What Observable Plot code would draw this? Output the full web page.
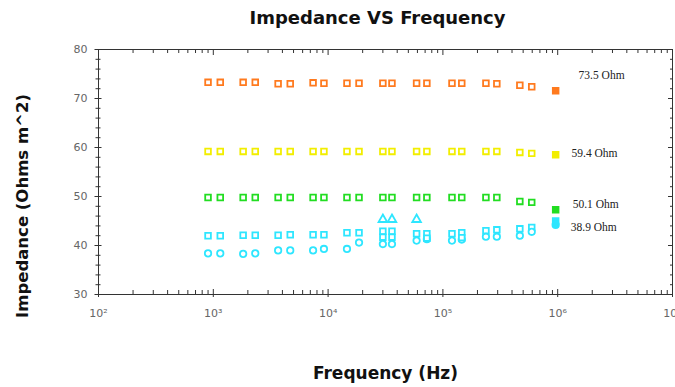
<!DOCTYPE html>
<html>
<head>
<meta charset="utf-8">
<script src="https://cdn.jsdelivr.net/npm/d3@7"></script>
<script src="https://cdn.jsdelivr.net/npm/@observablehq/plot@0.6"></script>
<style>
  html, body { margin: 0; padding: 0; background: #fff; }
  #wrap { position: relative; width: 675px; height: 387px; }
  #chart svg { display: block; }
  #ylabel {
    position: absolute; left: 22px; top: 206px;
    transform: translate(-50%, -50%) rotate(-90deg);
    white-space: nowrap;
    font-family: "DejaVu Sans", sans-serif; font-weight: bold; font-size: 16.5px; color: #111;
  }
</style>
</head>
<body>
<div id="wrap">
  <div id="chart"></div>
  <div id="ylabel">Impedance (Ohms m^2)</div>
</div>
<script>
// ---- data ----
const freq = [900, 1150, 1820, 2320, 3670, 4680, 7400, 9200, 14600, 18600,
              30000, 36000, 59000, 72500, 120000, 146000, 237000, 295000, 468000, 594000, 960000];
const orangeVals = [73.3, 73.3, 73.3, 73.3, 73.0, 73.0, 73.2, 73.1, 73.1, 73.1,
                    73.1, 73.1, 73.1, 73.1, 73.1, 73.1, 73.1, 73.0, 72.7, 72.4, 71.6];
const yellowVals = [59.2, 59.2, 59.2, 59.2, 59.2, 59.2, 59.2, 59.2, 59.2, 59.2,
                    59.2, 59.2, 59.2, 59.2, 59.2, 59.2, 59.2, 59.2, 59.0, 58.8, 58.5];
const greenVals  = [49.8, 49.8, 49.8, 49.8, 49.8, 49.8, 49.8, 49.8, 49.8, 49.8,
                    49.8, 49.8, 49.8, 49.8, 49.8, 49.8, 49.8, 49.8, 49.0, 48.8, 47.3];
const cyanUpper  = [42.0, 42.0, 42.1, 42.1, 42.1, 42.2, 42.2, 42.2, 42.6, 42.6,
                    42.9, 42.9, 42.4, 42.4, 42.4, 42.6, 43.0, 43.2, 43.4, 43.7, 45.0];
const cyanLower  = [38.4, 38.4, 38.3, 38.4, 39.0, 39.0, 39.0, 39.3, 39.3, 40.6,
                    40.3, 40.3, 41.0, 41.3, 41.0, 41.2, 41.8, 41.8, 42.0, 42.8, 44.2];
const cyanMidFreq = [30000, 36000, 72500, 146000];
const cyanMidVals = [41.7, 41.7, 41.5, 41.6];
const cyanTriFreq = [30000, 36000, 59000];
const cyanTriVals = [45.3, 45.3, 45.3];

const seriesNames  = ["73.5 Ohm", "59.4 Ohm", "50.1 Ohm", "38.9 Ohm"];
const seriesColors = ["#ff7a1e", "#f2ee00", "#22dd22", "#2ee6ff"];

const annFreq = [1.52e6, 1.32e6, 1.35e6, 1.30e6];
const annVals = [74.7, 58.8, 48.4, 43.7];

const yTicks = [30, 40, 50, 60, 70, 80];
const yMinor = [32, 34, 36, 38, 42, 44, 46, 48, 52, 54, 56, 58, 62, 64, 66, 68, 72, 74, 76, 78];
const xTicks = [1e2, 1e3, 1e4, 1e5, 1e6, 1e7];
const xTickLabels = ["10²", "10³", "10⁴", "10⁵", "10⁶", "10⁷"];
const xMinor = [];
for (const dec of [1e2, 1e3, 1e4, 1e5, 1e6]) for (const m of [2,3,4,5,6,7,8,9]) xMinor.push(m * dec);

// ---- build rows ----
const lastF = freq[freq.length - 1];
const rows = [];
const addSeries = (fs, vs, color, symbol) => fs.forEach((f, i) =>
  rows.push({f, v: vs[i], color, symbol, filled: f === lastF}));
addSeries(freq, orangeVals, seriesColors[0], "square");
addSeries(freq, yellowVals, seriesColors[1], "square");
addSeries(freq, greenVals, seriesColors[2], "square");
addSeries(freq, cyanUpper, seriesColors[3], "square");
addSeries(freq, cyanLower, seriesColors[3], "circle");
addSeries(cyanMidFreq, cyanMidVals, seriesColors[3], "square");
addSeries(cyanTriFreq, cyanTriVals, seriesColors[3], "triangle");

const anns = seriesNames.map((t, i) => ({t, f: annFreq[i], v: annVals[i]}));

const axisCol = "#333";
const blank = () => "";

const chart = Plot.plot({
  width: 675,
  height: 387,
  marginLeft: 98,
  marginRight: 3,
  marginTop: 49,
  marginBottom: 93,
  style: {background: "white", fontFamily: "DejaVu Sans, sans-serif"},
  x: {type: "log", domain: [1e2, 1e7]},
  y: {domain: [30, 80]},
  symbol: {type: "identity"},
  marks: [
    Plot.frame({stroke: axisCol}),
    // left axis
    Plot.axisY({anchor: "left", ticks: yTicks, tickSize: 7, dx: 3.5, tickFormat: blank, label: null, stroke: axisCol}),
    Plot.axisY({anchor: "left", ticks: yMinor, tickSize: 5, dx: 2.5, tickFormat: blank, label: null, stroke: axisCol}),
    Plot.axisY({anchor: "left", ticks: yTicks, tickSize: 0, tickPadding: 11, label: null, fill: "#666", fontSize: 11}),
    // right axis
    Plot.axisY({anchor: "right", ticks: yTicks, tickSize: 5, dx: -5, tickFormat: blank, label: null, stroke: axisCol}),
    Plot.axisY({anchor: "right", ticks: yMinor, tickSize: 3, dx: -3, tickFormat: blank, label: null, stroke: axisCol}),
    // bottom axis
    Plot.axisX({anchor: "bottom", ticks: xTicks, tickSize: 8, dy: -5, tickFormat: blank, label: null, stroke: axisCol}),
    Plot.axisX({anchor: "bottom", ticks: xMinor, tickSize: 4, dy: -4, tickFormat: blank, label: null, stroke: axisCol}),
    Plot.axisX({anchor: "bottom", ticks: xTicks, tickSize: 0, tickPadding: 15,
      tickFormat: d => xTickLabels[xTicks.indexOf(d)], label: null, fill: "#666", fontSize: 11}),
    // top axis
    Plot.axisX({anchor: "top", ticks: xTicks, tickSize: 5, dy: 5, tickFormat: blank, label: null, stroke: axisCol}),
    Plot.axisX({anchor: "top", ticks: xMinor, tickSize: 3, dy: 3, tickFormat: blank, label: null, stroke: axisCol}),
    // data
    Plot.dot(rows, {x: "f", y: "v", symbol: "symbol", r: 3.2, stroke: "color",
      fill: d => d.filled ? d.color : "white", strokeWidth: 1.8}),
    // annotations
    Plot.text(anns, {x: "f", y: "v", text: "t", textAnchor: "start",
      fontFamily: "Liberation Serif, serif", fontSize: 11.5, fill: "#222"}),
    // titles
    Plot.text(["Impedance VS Frequency"], {frameAnchor: "top", dy: -38, dx: -8,
      fontSize: 18, fontWeight: "bold", fill: "#111"}),
    Plot.text(["Frequency (Hz)"], {frameAnchor: "bottom", dy: 84,
      fontSize: 17, fontWeight: "bold", fill: "#111"})
  ]
});
document.getElementById("chart").appendChild(chart);
</script>
</body>
</html>
